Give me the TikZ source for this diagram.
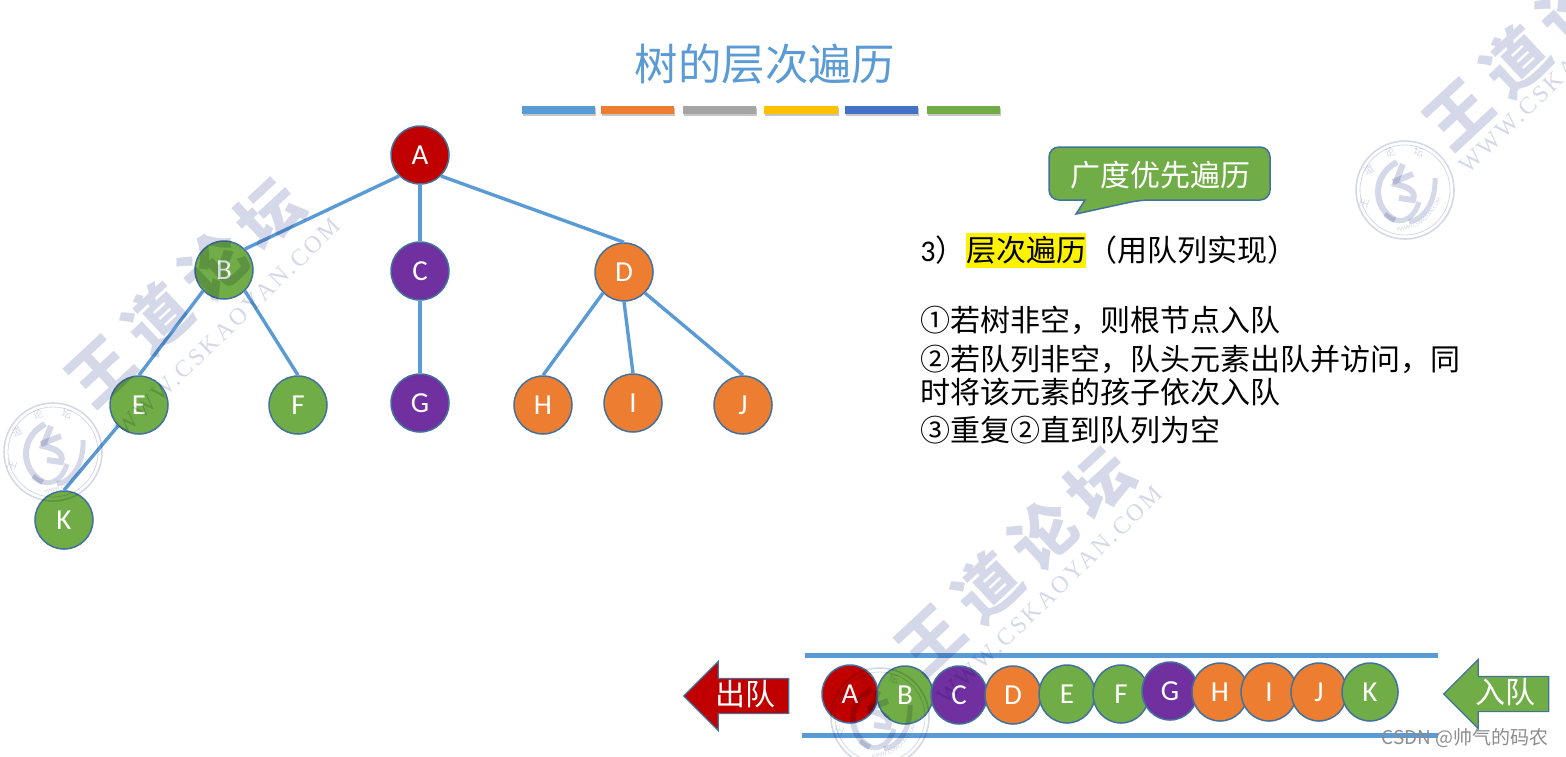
\documentclass[tikz,border=0pt]{standalone}
\usepackage{fontspec}
\setmainfont{Carlito}
\newfontfamily\cjk{Noto Sans CJK SC}
\newfontfamily\wmcjk[LetterSpace=20]{Noto Sans CJK SC}
\newfontfamily\wmlat[LetterSpace=11]{Liberation Serif}
\usetikzlibrary{positioning,shapes.geometric,shapes.arrows,shadows,decorations.text}
\definecolor{lineblue}{HTML}{5B9BD5}
\definecolor{edgeblue}{HTML}{41719C}
\definecolor{nred}{HTML}{C00000}
\definecolor{ngreen}{HTML}{70AD47}
\definecolor{npurple}{HTML}{7030A0}
\definecolor{norange}{HTML}{ED7D31}
\definecolor{bgray}{HTML}{A5A5A5}
\definecolor{bgold}{HTML}{FFC000}
\definecolor{bblue}{HTML}{4472C4}
\definecolor{wmark}{HTML}{D5D8E8}
\tikzset{
  wmseal/.pic={
    \draw[wmark, line width=.8pt] (0,0) circle[radius=49];
    \draw[wmark, line width=.4pt] (0,0) circle[radius=45];
    \draw[wmark, line width=3pt] (-8,-28) .. controls (-34,-14) and (-32,18) .. (-10,30);
    \draw[wmark, line width=2.5pt] (-20,24) .. controls (-8,36) and (8,32) .. (14,12);
    \draw[wmark, line width=2.5pt] (30,-12) .. controls (31,8) and (22,28) .. (4,32);
    \draw[wmark, line width=3pt] (-12,-8) -- (8,-16);
    \draw[wmark, line width=3pt] (-2,-26) -- (-10,-6) .. controls (0,-4) and (12,0) .. (8,10) -- (-6,8);
    \node[wmark, font=\cjk\fontsize{5}{6}\selectfont, rotate=70] (w1) at (-41,14) {王};
    \node[wmark, font=\cjk\fontsize{5}{6}\selectfont, rotate=25] (w2) at (-36,-20) {道};
    \node[wmark, font=\cjk\fontsize{5}{6}\selectfont, rotate=15] (w3) at (-15,-38) {论};
    \node[wmark, font=\cjk\fontsize{5}{6}\selectfont, rotate=-15] (w4) at (14,-38) {坛};
    \path[decorate, decoration={text along path, text color=wmark, text align=center,
      text={|\fontsize{3}{4}\selectfont|WWW.CSKAOYAN.COM}}]
      (-30,34) .. controls (-5,52) and (38,35) .. (41,-14);
  }
}
\begin{document}
\begin{tikzpicture}[x=0.5pt, y=-0.5pt,
  nd/.style={draw=edgeblue, line width=.75pt, circle, minimum size=29pt, inner sep=0pt, text=white, font=\fontsize{14.5}{16}\selectfont},
  qnd/.style={draw=edgeblue, line width=.75pt, ellipse, minimum width=28pt, minimum height=29pt, inner sep=0pt, text=white, font=\fontsize{14.5}{16}\selectfont},
  tline/.style={lineblue, line width=1.7pt},
  qline/.style={lineblue, line width=2.5pt},
  bar/.style={minimum width=36.5pt, minimum height=4pt, inner sep=0pt, drop shadow={shadow xshift=.4pt, shadow yshift=-1pt, opacity=.45}},
  txt/.style={anchor=west, inner sep=0pt, font=\cjk\fontsize{15}{18}\selectfont},
  qarrow/.style={draw=edgeblue, line width=.6pt, single arrow, single arrow head extend=8.5pt, minimum width=34pt, minimum height=52.5pt, inner sep=0pt, text height=13pt, text depth=4pt, text=white, font=\cjk\fontsize{15}{18}\selectfont},
  wmbig/.style={wmark, rotate=43, font=\wmcjk\bfseries\fontsize{32}{36}\selectfont},
  wmsmall/.style={wmark, rotate=44, font=\wmlat\fontsize{12}{14}\selectfont}]
\clip (0,0) rectangle (1566,756);

\node[text=lineblue, font=\cjk\fontsize{21.7}{26}\selectfont] (title) at (765,64) {树的层次遍历};
\node[bar, fill=lineblue] (b1) at (558.5,110) {};
\node[bar, fill=norange] (b2) at (637.5,110) {};
\node[bar, fill=bgray] (b3) at (719.5,110) {};
\node[bar, fill=bgold, minimum width=37pt] (b4) at (801,110) {};
\node[bar, fill=bblue] (b5) at (881.5,110) {};
\node[bar, fill=ngreen] (b6) at (963.5,110) {};

\node[nd, fill=nred] (A) at (420,155) {A};
\node[nd, fill=ngreen] (B) at (224,270) {B};
\node[nd, fill=npurple] (C) at (420,271) {C};
\node[nd, fill=norange] (D) at (624,272) {D};
\node[nd, fill=ngreen] (E) at (139,405) {E};
\node[nd, fill=ngreen] (F) at (298,405) {F};
\node[nd, fill=npurple] (G) at (420,403) {G};
\node[nd, fill=norange] (H) at (543,405) {H};
\node[nd, fill=norange] (I) at (633,403) {I};
\node[nd, fill=norange] (J) at (743,405) {J};
\node[nd, fill=ngreen] (K) at (64,520) {K};
\draw[tline] (A.south west) -- (B.north east);
\draw[tline] (A.south) -- (C.north);
\draw[tline] (A.south east) -- (D.north);
\draw[tline] (B.south west) -- (E.north);
\draw[tline] (B.south east) -- (F.north);
\draw[tline] (E.south west) -- (K.north);
\draw[tline] (C.south) -- (G.north);
\draw[tline] (D.south west) -- (H.north);
\draw[tline] (D.south) -- (I.north);
\draw[tline] (D.south east) -- (J.north);

\draw[draw=edgeblue, line width=.75pt, fill=ngreen, rounded corners=5pt] (1049,147) -- (1270,147) -- (1270,200) -- (1140,200) [sharp corners] -- (1076,214) -- (1085,200) [rounded corners=5pt] -- (1049,200) -- cycle;
\node[text=white, font=\cjk\fontsize{15}{18}\selectfont] (tag) at (1160,175) {广度优先遍历};

\node[txt, font=\fontsize{15}{18}\selectfont] (n3) at (920,250) {3{\cjk ）}};
\node[txt, fill=yellow, minimum height=17.5pt, right=0pt of n3] (hl) {层次遍历};
\node[txt, right=0pt of hl] (rest) {（用队列实现）};
\node[txt] (s1) at (920,320) {①若树非空，则根节点入队};
\node[txt] (s2) at (920,359) {②若队列非空，队头元素出队并访问，同};
\node[txt] (s2b) at (920,392) {时将该元素的孩子依次入队};
\node[txt] (s3) at (920,430) {③重复②直到队列为空};

\coordinate (t1) at (805,655);
\coordinate (t2) at (1438,655);
\coordinate (u1) at (802,735);
\coordinate (u2) at (1438,735);
\draw[qline] (t1) -- (t2);
\draw[qline] (u1) -- (u2);

\node[qnd, fill=nred] (qA) at (850,694) {A};
\node[qnd, fill=ngreen] (qB) at (905,695) {B};
\node[qnd, fill=npurple] (qC) at (959,695) {C};
\node[qnd, fill=norange] (qD) at (1013,695) {D};
\node[qnd, fill=ngreen] (qE) at (1067,694) {E};
\node[qnd, fill=ngreen] (qF) at (1121,694) {F};
\node[qnd, fill=npurple] (qG) at (1170,691) {G};
\node[qnd, fill=norange] (qH) at (1220,692) {H};
\node[qnd, fill=norange] (qI) at (1269,692) {I};
\node[qnd, fill=norange] (qJ) at (1319,692) {J};
\node[qnd, fill=ngreen] (qK) at (1370,692) {K};

\node[qarrow, fill=nred, shape border rotate=180] (out) at (745,696) {出队};
\node[qarrow, fill=ngreen, shape border rotate=180] (in) at (1505,694) {入队};

\begin{scope}[blend mode=multiply]
\node[wmbig] (wm1) at (185,292) {王道论坛};
\node[wmbig] (wm2) at (1015,561) {王道论坛};
\node[wmbig] (wm3) at (1543,35) {王道论坛};
\node[wmsmall] (ws1) at (228,327) {WWW.CSKAOYAN.COM};
\node[wmsmall] (ws2) at (1050,595) {WWW.CSKAOYAN.COM};
\node[wmsmall] (ws3) at (1572,64) {WWW.CSKAOYAN.COM};
\pic at (53,452) {wmseal};
\pic at (1405,190) {wmseal};
\pic at (880,717) {wmseal};
\end{scope}

\node[text=black!45, font=\cjk\fontsize{9.5}{11}\selectfont, inner sep=0pt] (csdn) at (1465,738) {CSDN @帅气的码农};
\end{tikzpicture}
\end{document}
